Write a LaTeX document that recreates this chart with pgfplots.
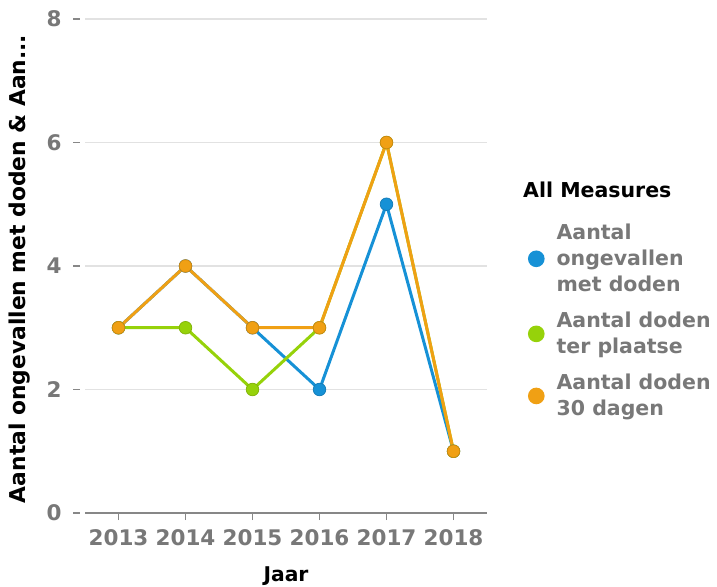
\documentclass[border=0pt]{standalone}
\usepackage{fontspec}
\setmainfont{DejaVu Sans}
\usepackage{pgfplots}
\pgfplotsset{compat=1.18}

\definecolor{cblue}{RGB}{22,145,214}
\definecolor{cgreen}{RGB}{150,210,10}
\definecolor{corange}{RGB}{240,160,20}
\definecolor{ticktxt}{RGB}{120,120,120}
\definecolor{gridc}{RGB}{226,226,226}
\definecolor{axisc}{RGB}{135,135,135}

\begin{document}
\begin{tikzpicture}[x=1pt,y=1pt]
\useasboundingbox (0,0) rectangle (717,586);
\begin{axis}[
  at={(85pt,73pt)}, anchor=south west,
  scale only axis,
  width=402pt, height=494pt,
  xmin=2012.5, xmax=2018.5,
  ymin=0, ymax=8,
  xtick={2013,2014,2015,2016,2017,2018},
  ytick={0,2,4,6,8},
  axis x line*=bottom, axis y line*=left,
  axis line style={-},
  x axis line style={draw=axisc, line width=1.4pt},
  y axis line style={draw=none},
  tick align=outside,
  major tick length=7pt,
  xtick style={draw=axisc, line width=1.2pt},
  ytick style={draw=axisc, line width=1.2pt, xshift=-5pt},
  ymajorgrids,
  grid style={gridc, line width=1.4pt},
  /pgf/number format/assume math mode=true,
  /pgf/number format/1000 sep={},
  tick label style={font=\fontsize{21.5}{24}\selectfont\bfseries, text=ticktxt},
  yticklabel style={xshift=-13pt},
  xticklabel style={yshift=-6pt},
  xlabel={Jaar},
  ylabel={Aantal ongevallen met doden \& Aan...},
  xlabel style={font=\fontsize{20.3}{24}\selectfont\bfseries, text=black,
    at={(axis description cs:0.5,-0.127)}, anchor=center},
  ylabel style={font=\fontsize{21.8}{24}\selectfont\bfseries, text=black,
    at={(axis description cs:-0.164,0.494)}, anchor=center},
  every axis plot/.append style={line width=3pt, mark=*, mark size=6.3pt},
  legend image code/.code={\fill[#1] (0,0) circle (6.8pt);},
  legend style={at={(axis description cs:1.094,0.593)}, anchor=north west,
    draw=none, fill=none,
    font=\fontsize{20.5}{26}\selectfont\bfseries, text=ticktxt,
    cells={anchor=west, align=left},
    column sep=10pt, row sep=15pt},
  clip=false,
]
\addplot[cblue, mark options={fill=cblue, draw=cblue!85!black, line width=0.7pt}] coordinates {
  (2013,3) (2014,4) (2015,3) (2016,2) (2017,5) (2018,1)};
\addlegendentry{Aantal\\ongevallen\\met doden}
\addplot[cgreen, mark options={fill=cgreen, draw=cgreen!85!black, line width=0.7pt}] coordinates {
  (2013,3) (2014,3) (2015,2) (2016,3) (2017,6) (2018,1)};
\addlegendentry{Aantal doden\\ter plaatse}
\addplot[corange, mark options={fill=corange, draw=corange!85!black, line width=0.7pt}] coordinates {
  (2013,3) (2014,4) (2015,3) (2016,3) (2017,6) (2018,1)};
\addlegendentry{Aantal doden\\30 dagen}
\end{axis}
\node[anchor=west, font=\fontsize{20.5}{24}\selectfont\bfseries, text=black, inner sep=0pt] at (523,396) {All Measures};
\end{tikzpicture}
\end{document}
